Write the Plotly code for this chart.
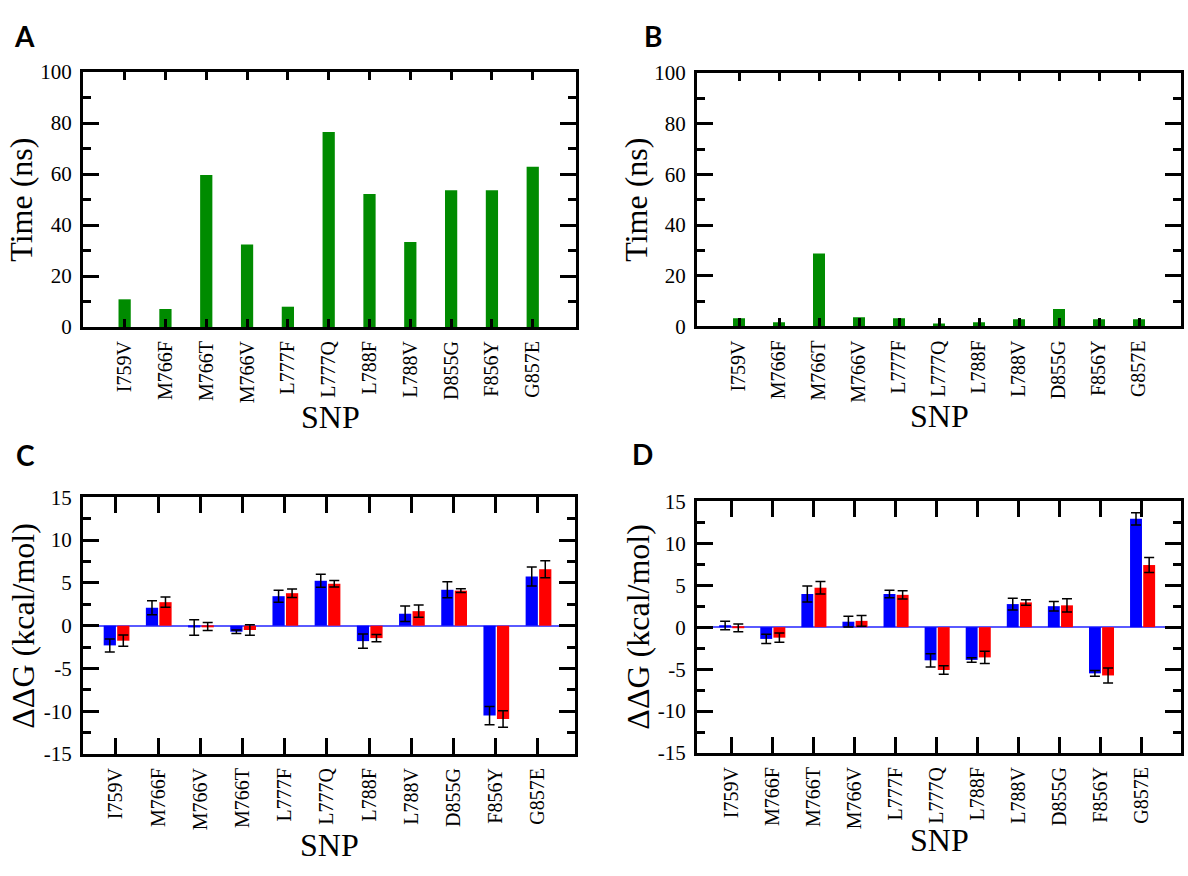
import plotly.graph_objects as go
from plotly.subplots import make_subplots

# ---------------- data ----------------
snp_ab = ["I759V", "M766F", "M766T", "M766V", "L777F", "L777Q",
          "L788F", "L788V", "D855G", "F856Y", "G857E"]
snp_c = ["I759V", "M766F", "M766V", "M766T", "L777F", "L777Q",
         "L788F", "L788V", "D855G", "F856Y", "G857E"]
snp_d = ["I759V", "M766F", "M766T", "M766V", "L777F", "L777Q",
         "L788F", "L788V", "D855G", "F856Y", "G857E"]

time_a = [10.9, 7.1, 59.6, 32.4, 8.0, 76.5, 52.2, 33.4, 53.7, 53.7, 62.9]
time_b = [3.2, 1.7, 28.8, 3.6, 3.2, 1.2, 1.7, 2.8, 6.9, 2.8, 2.8]

ddg_c_blue = [-2.3, 2.1, -0.2, -0.7, 3.45, 5.25, -1.8, 1.4, 4.2, -10.5, 5.75]
err_c_blue = [0.76, 0.83, 0.9, 0.2, 0.7, 0.75, 0.83, 0.9, 0.93, 1.06, 1.1]
ddg_c_red = [-1.75, 2.75, -0.1, -0.5, 3.8, 4.9, -1.45, 1.7, 4.1, -10.9, 6.6]
err_c_red = [0.66, 0.6, 0.47, 0.6, 0.5, 0.38, 0.42, 0.72, 0.22, 0.95, 1.0]

ddg_d_blue = [0.2, -1.4, 3.95, 0.65, 3.95, -3.95, -3.9, 2.75, 2.5, -5.5, 12.9]
err_d_blue = [0.52, 0.55, 0.95, 0.64, 0.45, 0.78, 0.27, 0.7, 0.56, 0.35, 0.74]
ddg_d_red = [-0.08, -1.25, 4.7, 0.75, 3.85, -5.1, -3.6, 2.95, 2.6, -5.75, 7.4]
err_d_red = [0.47, 0.56, 0.74, 0.64, 0.5, 0.52, 0.72, 0.33, 0.78, 0.9, 0.9]

time_ticks = [0, 20, 40, 60, 80, 100]
time_ticktext = ["0", "20", "40", "60", "80", "100"]
ddg_ticks = [-15, -10, -5, 0, 5, 10, 15]
ddg_ticktext = ["-15", "-10", "-5", "0", "5", "10", "15"]

# ---------------- layout helpers ----------------
W, H = 1188, 876
SERIF = "Liberation Serif, Times New Roman, serif"
GREEN = "rgb(0,139,0)"
BLUE = "rgb(0,0,255)"
RED = "rgb(255,0,0)"

# panel frames in pixels: (left, top, right, bottom)
boxes = {
    "A": (83, 61.7, 576, 324),
    "B": (697, 62.7, 1181, 323.3),
    "C": (83, 499, 575, 763),
    "D": (697, 503, 1181, 762),
}

fig = make_subplots(rows=2, cols=2)

fig.add_trace(go.Bar(x=snp_ab, y=time_a, width=0.3, marker=dict(color=GREEN, line=dict(width=0)),
                     showlegend=False), row=1, col=1)
fig.add_trace(go.Bar(x=snp_ab, y=time_b, width=0.3, marker=dict(color=GREEN, line=dict(width=0)),
                     showlegend=False), row=1, col=2)

eb = dict(type="data", color="black", thickness=1.5, width=5)
fig.add_trace(go.Bar(x=snp_c, y=ddg_c_blue, width=0.29, offset=-0.29,
                     marker=dict(color=BLUE, line=dict(width=0)),
                     error_y=dict(array=err_c_blue, **eb), showlegend=False), row=2, col=1)
fig.add_trace(go.Bar(x=snp_c, y=ddg_c_red, width=0.29, offset=0.03,
                     marker=dict(color=RED, line=dict(width=0)),
                     error_y=dict(array=err_c_red, **eb), showlegend=False), row=2, col=1)
fig.add_trace(go.Bar(x=snp_d, y=ddg_d_blue, width=0.29, offset=-0.29,
                     marker=dict(color=BLUE, line=dict(width=0)),
                     error_y=dict(array=err_d_blue, **eb), showlegend=False), row=2, col=2)
fig.add_trace(go.Bar(x=snp_d, y=ddg_d_red, width=0.29, offset=0.03,
                     marker=dict(color=RED, line=dict(width=0)),
                     error_y=dict(array=err_d_red, **eb), showlegend=False), row=2, col=2)


def dom_x(b):
    return [b[0] / W, b[2] / W]


def dom_y(b):
    return [1 - b[3] / H, 1 - b[1] / H]


ytickfont = dict(family=SERIF, size=21, color="black")
xtickfont = dict(family=SERIF, size=20, color="black")

xranges = {"A": [-1.02, 11.06], "B": [-1.05, 11.05], "C": [-0.78, 10.88], "D": [-0.83, 10.95]}
axis_ids = {"A": ("xaxis", "yaxis"), "B": ("xaxis2", "yaxis2"),
            "C": ("xaxis3", "yaxis3"), "D": ("xaxis4", "yaxis4")}

for key, (xa, ya) in axis_ids.items():
    b = boxes[key]
    top_row = key in ("A", "B")
    fig.layout[xa].update(
        domain=dom_x(b), range=xranges[key], type="category",
        showline=True, linecolor="black", linewidth=3, mirror="ticks",
        ticks="inside", ticklen=8 if top_row else 16, tickwidth=2.5, tickcolor="black",
        tickangle=-90, tickfont=xtickfont, ticklabelstandoff=3,
        showgrid=False, zeroline=False,
    )
    if top_row:
        fig.layout[ya].update(
            domain=dom_y(b), range=[0, 100],
            tickmode="array", tickvals=time_ticks, ticktext=time_ticktext,
            minor=dict(ticks="inside", ticklen=8, dtick=10, tick0=0, tickwidth=2.5, tickcolor="black"),
            zeroline=False,
        )
    else:
        fig.layout[ya].update(
            domain=dom_y(b), range=[-15, 15],
            tickmode="array", tickvals=ddg_ticks, ticktext=ddg_ticktext,
            minor=dict(ticks="inside", ticklen=8, dtick=2.5, tick0=0, tickwidth=2.5, tickcolor="black"),
            zeroline=True, zerolinecolor="rgb(90,90,255)", zerolinewidth=2,
        )
    fig.layout[ya].update(
        showline=True, linecolor="black", linewidth=3, mirror="ticks",
        ticks="inside", ticklen=16, tickwidth=2.5, tickcolor="black",
        tickfont=ytickfont, ticklabelstandoff=4, showgrid=False,
    )

ann = []


def add_text(text, px, py, size, family=SERIF, angle=0):
    ann.append(dict(text=text, x=px / W, y=1 - py / H, xref="paper", yref="paper",
                    xanchor="center", yanchor="middle", showarrow=False, textangle=angle,
                    font=dict(family=family, size=size, color="black")))


LETTER_FONT = "Lato, Open Sans, Liberation Sans, sans-serif"
add_text("<b>A</b>", 24, 25, 28, LETTER_FONT)
add_text("<b>B</b>", 653, 25, 28, LETTER_FONT)
add_text("<b>C</b>", 25, 455, 28, LETTER_FONT)
add_text("<b>D</b>", 643, 454, 28, LETTER_FONT)

add_text("Time (ns)", 21, 193, 32, angle=-90)
add_text("Time (ns)", 636, 193, 32, angle=-90)
add_text("ΔΔG (kcal/mol)", 23, 631, 32, angle=-90)
add_text("ΔΔG (kcal/mol)", 638, 632, 32, angle=-90)

add_text("SNP", 330, 416, 32)
add_text("SNP", 939, 415, 32)
add_text("SNP", 329, 856, 32)
add_text("SNP", 939, 851, 32)

fig.update_layout(
    width=W, height=H, margin=dict(l=0, r=0, t=0, b=0),
    paper_bgcolor="white", plot_bgcolor="white",
    barmode="overlay", annotations=ann, showlegend=False,
)

fig.write_html("out.html", config={"displayModeBar": False},
               post_script="document.body.style.margin='0';")
